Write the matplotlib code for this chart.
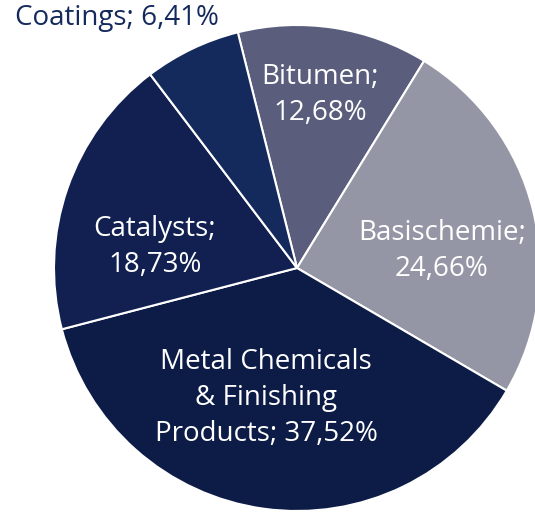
import matplotlib.pyplot as plt

labels = ["Bitumen", "Basischemie", "Metal Chemicals & Finishing Products", "Catalysts", "Coatings"]
shares = [12.68, 24.66, 37.52, 18.73, 6.41]
label_texts = ["Bitumen;\n12,68%", "Basischemie;\n24,66%", "Metal Chemicals\n& Finishing\nProducts; 37,52%",
               "Catalysts;\n18,73%", "Coatings; 6,41%"]
colors = ["#5a5e7c", "#9596a5", "#0d1c46", "#112050", "#142a5c"]

W, H = 535, 512
fig = plt.figure(figsize=(W / 100, H / 100), dpi=100)
ax = fig.add_axes([0, 0, 1, 1])

cx, cy, r = 297, H - 268, 243
ax.pie(shares, colors=colors, startangle=104.1, counterclock=False,
       center=(cx, cy), radius=r,
       wedgeprops=dict(edgecolor="white", linewidth=1.5))
ax.set_xlim(0, W)
ax.set_ylim(0, H)
ax.set_aspect("equal")
ax.axis("off")

# label positions in pixel coords (from top-left)
pos = [(320, 95), (442, 251), (266, 398), (155, 247), (117, 18)]
for txt, (px, py), lab in zip(label_texts, pos, labels):
    col = "#142a5c" if lab == "Coatings" else "white"
    ax.text(px, H - py, txt, ha="center", va="center", color=col,
            fontsize=20, family="Open Sans", linespacing=1.38)

fig.savefig("out.png", dpi=100)
